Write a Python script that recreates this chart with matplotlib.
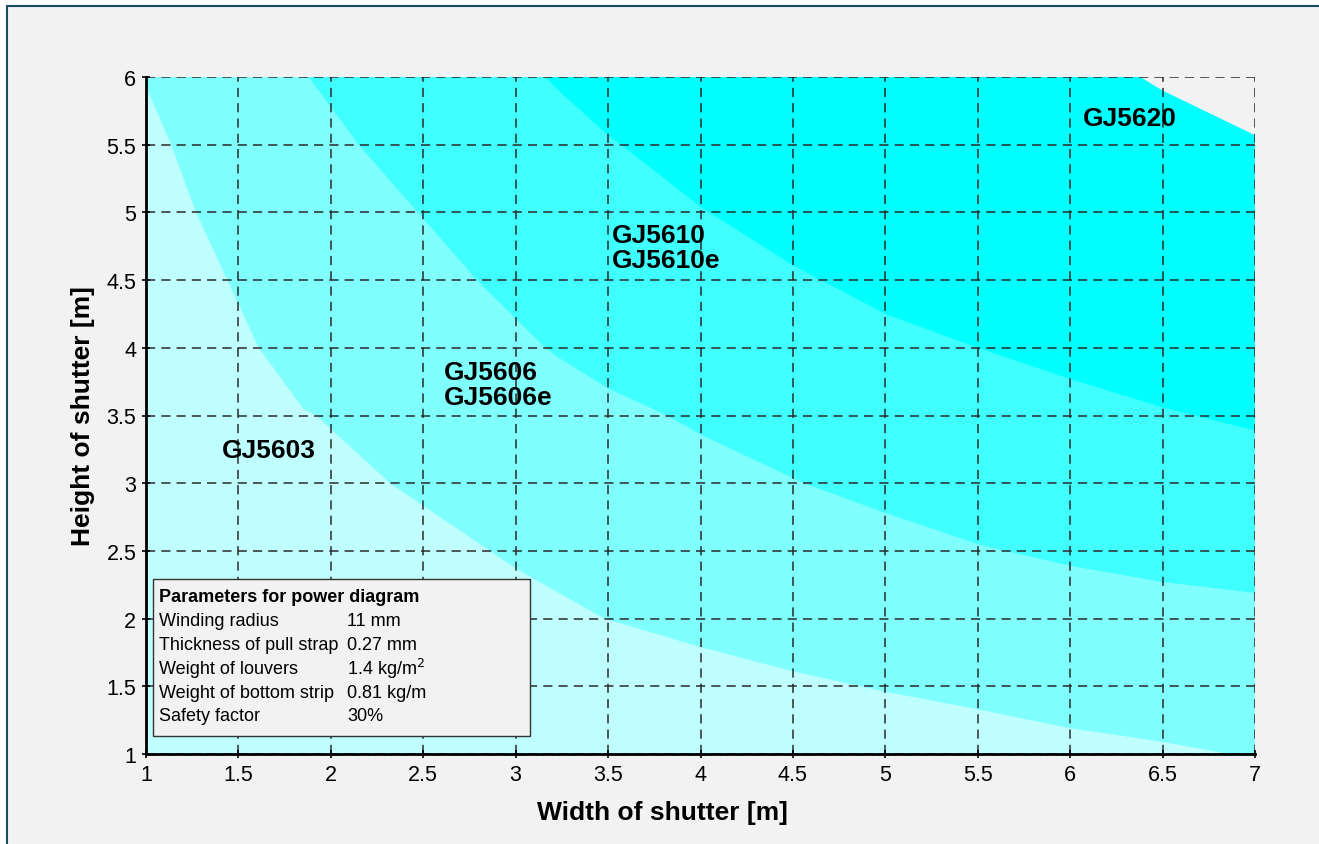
import matplotlib
matplotlib.use("Agg")
import matplotlib.pyplot as plt
from matplotlib.patches import Rectangle
import numpy as np

plt.rcParams['font.family'] = ['Liberation Sans', 'DejaVu Sans']

# boundary curves (width, height)
c1_w = [1.0, 1.136, 1.27, 1.44, 1.61, 1.85, 1.92, 2.32, 2.86, 3.0, 3.48, 4.0, 4.5, 5.0, 5.5, 6.0, 6.5, 6.86]
c1_h = [5.93, 5.5, 5.0, 4.5, 4.0, 3.55, 3.5, 3.0, 2.5, 2.37, 2.0, 1.79, 1.61, 1.46, 1.33, 1.19, 1.09, 1.0]
c2_w = [1.88, 2.15, 2.47, 2.79, 3.16, 3.24, 3.5, 3.82, 4.0, 4.56, 5.0, 5.5, 5.65, 6.0, 6.5, 7.0]
c2_h = [6.0, 5.5, 5.0, 4.5, 4.0, 3.92, 3.70, 3.5, 3.36, 3.0, 2.78, 2.55, 2.5, 2.39, 2.27, 2.19]
c3_w = [3.16, 3.24, 3.5, 3.57, 4.0, 4.5, 5.0, 5.5, 6.0, 6.5, 7.0]
c3_h = [6.0, 5.89, 5.57, 5.5, 5.04, 4.61, 4.25, 4.0, 3.77, 3.56, 3.39]
c4_w = [6.38, 6.5, 7.0]
c4_h = [6.0, 5.90, 5.57]

models = ["GJ5603", "GJ5606\nGJ5606e", "GJ5610\nGJ5610e", "GJ5620"]
model_pos = [(1.41, 3.245), (2.61, 3.73), (3.52, 4.74), (6.07, 5.70)]

params = ["Winding radius", "Thickness of pull strap", "Weight of louvers",
          "Weight of bottom strip", "Safety factor"]
param_vals = ["11 mm", "0.27 mm", "1.4 kg/m$^2$", "0.81 kg/m", "30%"]

xmin, xmax, ymin, ymax = 1, 7, 1, 6
bg = "#f2f2f2"

fig = plt.figure(figsize=(13.19, 8.45), dpi=100, facecolor="white")
fig.patches.append(Rectangle((7 / 1319, -0.05), 1.1, 1 - 7 / 845 + 0.05,
                             transform=fig.transFigure, facecolor=bg,
                             edgecolor="#1b4a63", linewidth=1.5, zorder=-10))
ax = fig.add_axes([146 / 1319, 1 - 755 / 845, (1255 - 146) / 1319, (755 - 78) / 845])
ax.set_facecolor(bg)

# paint from darkest to lightest
layers = [(c4_w, c4_h, "#00ffff"), (c3_w, c3_h, "#40ffff"), (c2_w, c2_h, "#80ffff")]
for w, h, col in layers:
    px = [xmin, xmin] + list(w) + [xmax]
    py = [ymin, ymax] + list(h) + [ymin]
    ax.fill(px, py, color=col, lw=0, zorder=1)
ax.fill([xmin] + c1_w, [ymin] + c1_h, color="#c0ffff", lw=0, zorder=1)

ax.set_xlim(xmin, xmax)
ax.set_ylim(ymin, ymax)
ax.set_xticks(np.arange(1, 7.01, 0.5))
ax.set_yticks(np.arange(1, 6.01, 0.5))
ax.set_xticklabels(["1", "1.5", "2", "2.5", "3", "3.5", "4", "4.5", "5", "5.5", "6", "6.5", "7"])
ax.set_yticklabels(["1", "1.5", "2", "2.5", "3", "3.5", "4", "4.5", "5", "5.5", "6"])
ax.tick_params(direction="inout", length=6, width=1.2, labelsize=15.5, pad=4, colors="black")
ax.grid(True, color="#2a2a2a", linestyle=(0, (6, 4)), linewidth=1.1, zorder=2)
ax.set_axisbelow(False)
for s in ["top", "right"]:
    ax.spines[s].set_visible(False)
for s in ["left", "bottom"]:
    ax.spines[s].set_linewidth(2)
    ax.spines[s].set_zorder(5)

ax.set_xlabel("Width of shutter [m]", fontsize=19, fontweight="bold", labelpad=10)
ax.xaxis.set_label_coords((662 - 146) / (1255 - 146), -0.068)
ax.set_ylabel("Height of shutter [m]", fontsize=19, fontweight="bold", labelpad=8)

for name, (mx, my) in zip(models, model_pos):
    ax.text(mx, my, name, fontsize=19, fontweight="bold", ha="left", va="center",
            linespacing=1.08, zorder=6)

# parameter box
x0 = (153 - 146) / (1255 - 146)
y0 = (755 - 737) / (755 - 78)
bw = (530 - 153) / (1255 - 146)
bh = (737 - 580) / (755 - 78)
ax.add_patch(Rectangle((x0, y0), bw, bh, transform=ax.transAxes, facecolor=bg,
                       edgecolor="#333333", linewidth=1, zorder=7))
tx = (159 - 146) / (1255 - 146)
vx = (347 - 146) / (1255 - 146)
def ay(py):
    return (755 - py) / (755 - 78)
ax.text(tx, ay(597), "Parameters for power diagram", transform=ax.transAxes,
        fontsize=13, fontweight="bold", va="center", zorder=8)
for i, (p, v) in enumerate(zip(params, param_vals)):
    yy = ay(621 + 24 * i)
    ax.text(tx, yy, p, transform=ax.transAxes, fontsize=13, va="center", zorder=8)
    ax.text(vx, yy, v, transform=ax.transAxes, fontsize=13, va="center", zorder=8)

fig.savefig("out.png", dpi=100, facecolor=fig.get_facecolor())
